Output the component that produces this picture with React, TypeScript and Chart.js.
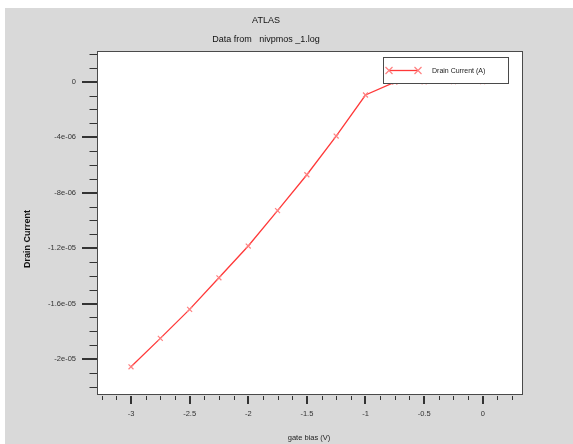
import React, { useEffect, useRef } from "react";
import { Chart, registerables } from "chart.js";
Chart.register(...registerables);

// ---- data ----
const gateBias = [-3, -2.75, -2.5, -2.25, -2, -1.75, -1.5, -1.25, -1, -0.75, -0.5, -0.25, 0];
const drainCurrent = [
  -2.056e-5, -1.851e-5, -1.642e-5, -1.414e-5, -1.185e-5, -9.3e-6, -6.71e-6, -3.92e-6,
  -9.6e-7, -3e-8, -2e-9, -1e-9, -1e-9,
];
const xMajorTicks = [-3, -2.5, -2, -1.5, -1, -0.5, 0];
const xTickLabels = ["-3", "-2.5", "-2", "-1.5", "-1", "-0.5", "0"];
const yMajorTicks = [0, -4e-6, -8e-6, -1.2e-5, -1.6e-5, -2e-5];
const yTickLabels = ["0", "-4e-06", "-8e-06", "-1.2e-05", "-1.6e-05", "-2e-05"];
const xMinorStep = 0.125;
const xMinorRange = [-3.25, 0.25];
const yMinorStep = 1e-6;
const yMinorRange = [-2.2e-5, 2e-6];

const mainTitle = "ATLAS";
const subTitle = "Data from   nivpmos _1.log";
const xTitle = "gate bias (V)";
const yTitle = "Drain Current";
const seriesName = "Drain Current (A)";

const FONT = "'Liberation Sans', Arial, Helvetica, sans-serif";
const LINE_COLOR = "rgba(255,45,45,0.95)";
const MARKER_COLOR = "#ff8080";

function drawCross(ctx: CanvasRenderingContext2D, x: number, y: number, r: number) {
  ctx.beginPath();
  ctx.moveTo(x - r, y - r);
  ctx.lineTo(x + r, y + r);
  ctx.moveTo(x - r, y + r);
  ctx.lineTo(x + r, y - r);
  ctx.stroke();
}

const atlasPlugin = {
  id: "atlasDecor",
  beforeDraw(chart: any) {
    const ctx = chart.ctx as CanvasRenderingContext2D;
    const { left, top, right, bottom } = chart.chartArea;
    ctx.save();
    ctx.fillStyle = "#ffffff";
    ctx.fillRect(0, 0, chart.width, chart.height);
    ctx.fillStyle = "#d9d9d9";
    ctx.fillRect(5, 8, chart.width - 5, chart.height - 8);
    ctx.fillStyle = "#ffffff";
    ctx.fillRect(left, top, right - left, bottom - top);
    ctx.restore();
  },
  afterDraw(chart: any) {
    const ctx = chart.ctx as CanvasRenderingContext2D;
    const { left, top, right, bottom } = chart.chartArea;
    const xs = chart.scales.x;
    const ys = chart.scales.y;
    ctx.save();
    // frame
    ctx.strokeStyle = "#4a4a4a";
    ctx.lineWidth = 1;
    ctx.strokeRect(Math.round(left) + 0.5, Math.round(top) + 0.5, Math.round(right - left), Math.round(bottom - top));
    // ticks
    ctx.strokeStyle = "#333";
    for (let v = yMinorRange[0]; v <= yMinorRange[1] + yMinorStep / 2; v += yMinorStep) {
      const major = yMajorTicks.some((m) => Math.abs(m - v) < yMinorStep / 10);
      const py = Math.round(ys.getPixelForValue(v));
      ctx.lineWidth = major ? 2 : 1;
      ctx.beginPath();
      ctx.moveTo(left - (major ? 15 : 7.5), py + (major ? 0 : 0.5));
      ctx.lineTo(left, py + (major ? 0 : 0.5));
      ctx.stroke();
    }
    for (let v = xMinorRange[0]; v <= xMinorRange[1] + xMinorStep / 2; v += xMinorStep) {
      const major = xMajorTicks.some((m) => Math.abs(m - v) < xMinorStep / 10);
      const px = Math.round(xs.getPixelForValue(v));
      ctx.lineWidth = major ? 2 : 1;
      ctx.beginPath();
      ctx.moveTo(px + (major ? 0 : 0.5), bottom + 2);
      ctx.lineTo(px + (major ? 0 : 0.5), bottom + (major ? 10 : 6));
      ctx.stroke();
    }
    // titles
    ctx.fillStyle = "#111";
    ctx.textAlign = "center";
    ctx.textBaseline = "middle";
    ctx.font = `9px ${FONT}`;
    ctx.fillText(mainTitle, 266, 21);
    ctx.fillText(subTitle, 266, 40);
    ctx.font = `7.5px ${FONT}`;
    ctx.fillStyle = "#222";
    ctx.fillText(xTitle, 309, 438);
    ctx.save();
    ctx.translate(28, 239);
    ctx.rotate(-Math.PI / 2);
    ctx.font = `bold 9px ${FONT}`;
    ctx.fillStyle = "#111";
    ctx.fillText(yTitle, 0, 0);
    ctx.restore();
    // legend
    const lx = 383, ly = 57, lw = 125, lh = 26;
    ctx.fillStyle = "#ffffff";
    ctx.fillRect(lx, ly, lw, lh);
    ctx.strokeStyle = "#4a4a4a";
    ctx.lineWidth = 1;
    ctx.strokeRect(lx + 0.5, ly + 0.5, lw, lh);
    ctx.strokeStyle = LINE_COLOR;
    ctx.lineWidth = 1.3;
    ctx.beginPath();
    ctx.moveTo(389, 70.5);
    ctx.lineTo(418, 70.5);
    ctx.stroke();
    ctx.strokeStyle = MARKER_COLOR;
    ctx.lineWidth = 1.2;
    drawCross(ctx, 389, 70.5, 3.5);
    drawCross(ctx, 418, 70.5, 3.5);
    ctx.fillStyle = "#222";
    ctx.font = `7px ${FONT}`;
    ctx.textAlign = "left";
    ctx.fillText(seriesName, 432, 71);
    ctx.restore();
  },
};

export default function App() {
  const ref = useRef<HTMLCanvasElement | null>(null);
  useEffect(() => {
    if (!ref.current) return;
    const chart = new Chart(ref.current, {
      type: "line",
      data: {
        datasets: [
          {
            label: seriesName,
            data: gateBias.map((x, i) => ({ x, y: drainCurrent[i] })),
            borderColor: LINE_COLOR,
            borderWidth: 1.3,
            pointStyle: "crossRot",
            pointRadius: 3.5,
            pointBorderColor: MARKER_COLOR,
            pointBorderWidth: 1.2,
            pointBackgroundColor: MARKER_COLOR,
            tension: 0,
            fill: false,
          },
        ],
      },
      options: {
        animation: false,
        responsive: false,
        devicePixelRatio: 1,
        layout: { padding: { top: 51, right: 51, left: 0, bottom: 0 } },
        plugins: { legend: { display: false }, title: { display: false }, tooltip: { enabled: false } },
        scales: {
          x: {
            type: "linear",
            min: -3.29,
            max: 0.335,
            grid: { display: false, drawTicks: false },
            border: { display: false },
            afterBuildTicks: (s: any) => {
              s.ticks = xMajorTicks.map((v) => ({ value: v }));
            },
            afterFit: (s: any) => {
              s.height = 50;
            },
            ticks: {
              autoSkip: false,
              maxRotation: 0,
              padding: 15,
              color: "#333",
              font: { size: 7.5, family: FONT },
              callback: (_v: any, i: number) => xTickLabels[i],
            },
          },
          y: {
            type: "linear",
            min: -2.252e-5,
            max: 2.214e-6,
            grid: { display: false, drawTicks: false },
            border: { display: false },
            afterBuildTicks: (s: any) => {
              s.ticks = yMajorTicks.slice().reverse().map((v) => ({ value: v }));
            },
            afterFit: (s: any) => {
              s.width = 97;
            },
            ticks: {
              autoSkip: false,
              padding: 21,
              color: "#333",
              font: { size: 7.5, family: FONT },
              callback: (v: any) => {
                const idx = yMajorTicks.findIndex((m) => Math.abs(m - v) < 1e-9);
                return idx >= 0 ? yTickLabels[idx] : "";
              },
            },
          },
        },
      },
      plugins: [atlasPlugin],
    });
    return () => chart.destroy();
  }, []);
  return (
    <div style={{ position: "absolute", left: 0, top: 0, width: 573, height: 444 }}>
      <canvas ref={ref} width={573} height={444} style={{ display: "block" }} />
    </div>
  );
}
